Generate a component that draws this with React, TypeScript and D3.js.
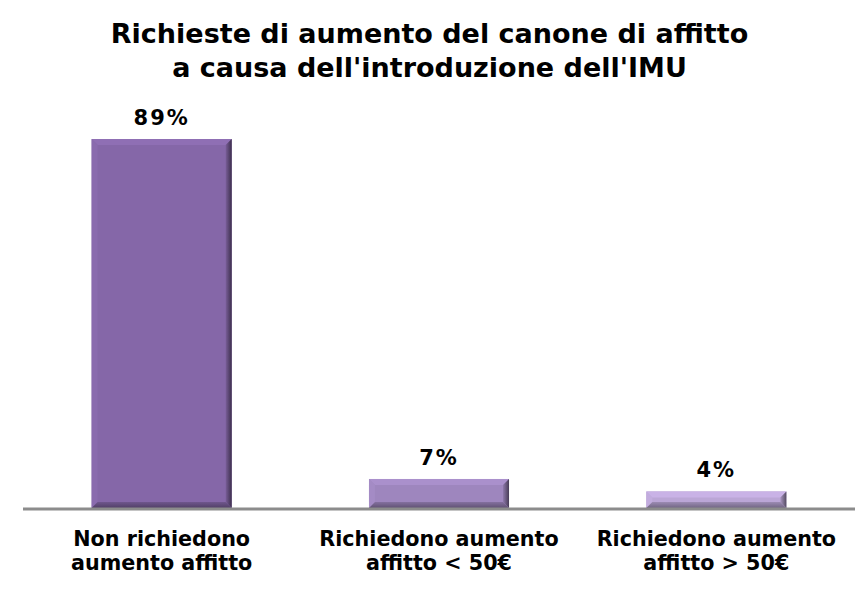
import React from "react";
import * as d3 from "d3";

const categories = ["Non richiedono|aumento affitto", "Richiedono aumento|affitto < 50€", "Richiedono aumento|affitto > 50€"];
const values = [89, 7, 4];
const valueLabels = ["89%", "7%", "4%"];
const colors = ["#8567A8", "#9E86BE", "#BBA6D6"];
const titleLines = ["Richieste di aumento del canone di affitto", "a causa dell'introduzione dell'IMU"];

const W = 859, H = 603;
const left = 23, right = 855, baseY = 508;

function shade(c: string, k: number) {
  const col = d3.color(c)!;
  return k > 0 ? col.brighter(k).formatHex() : col.darker(-k).formatHex();
}

export default function App() {
  const x = d3.scaleBand().domain(categories).range([left, right]).paddingInner(0.495).paddingOuter(0.2475);
  const y = d3.scaleLinear().domain([0, 89]).range([baseY, 139]);
  const b = 6;
  const font = "'DejaVu Sans', Verdana, sans-serif";
  return (
    <svg width={W} height={H} style={{ position: "absolute", left: 0, top: 0, background: "#fff" }}>
      <defs>
        {colors.map((c, i) => (
          <g key={i}>
            <linearGradient id={`rg${i}`} x1="0" x2="1" y1="0" y2="0">
              <stop offset="0" stopColor={shade(c, -0.3)} />
              <stop offset="1" stopColor={shade(c, -2.2)} />
            </linearGradient>
            <linearGradient id={`bg${i}`} x1="0" x2="0" y1="0" y2="1">
              <stop offset="0" stopColor={shade(c, -0.5)} />
              <stop offset="1" stopColor={shade(c, -1.4)} />
            </linearGradient>
          </g>
        ))}
      </defs>
      {titleLines.map((t, i) => (
        <text key={i} x={429.5} y={43 + i * 34} textAnchor="middle" fontFamily={font} fontWeight="bold" fontSize={27} fill="#000">
          {t}
        </text>
      ))}
      {categories.map((c, i) => {
        const x0 = x(c)!;
        const w = x.bandwidth();
        const y0 = y(values[i]);
        const x1 = x0 + w;
        const col = colors[i];
        const bb = Math.min(b, (baseY - y0) / 2);
        return (
          <g key={c}>
            <rect x={x0} y={y0} width={w} height={baseY - y0} fill={col} />
            <polygon points={`${x0},${y0} ${x1},${y0} ${x1 - bb},${y0 + bb} ${x0 + bb},${y0 + bb}`} fill={shade(col, 0.2)} />
            <polygon points={`${x0},${y0} ${x0 + bb},${y0 + bb} ${x0 + bb},${baseY - bb} ${x0},${baseY}`} fill={shade(col, 0.1)} />
            <polygon points={`${x1},${y0} ${x1},${baseY} ${x1 - bb},${baseY - bb} ${x1 - bb},${y0 + bb}`} fill={`url(#rg${i})`} />
            <polygon points={`${x0},${baseY} ${x1},${baseY} ${x1 - bb},${baseY - bb} ${x0 + bb},${baseY - bb}`} fill={`url(#bg${i})`} />
            <text x={x0 + w / 2} y={y0 - 14} textAnchor="middle" fontFamily={font} fontWeight="bold" fontSize={21} letterSpacing={2} fill="#000">
              {valueLabels[i]}
            </text>
            {c.split("|").map((l, j) => (
              <text key={j} x={x0 + w / 2} y={546 + j * 24} textAnchor="middle" fontFamily={font} fontWeight="bold" fontSize={20.7} fill="#000">
                {l}
              </text>
            ))}
          </g>
        );
      })}
      <line x1={left} x2={right} y1={baseY + 1} y2={baseY + 1} stroke="#8C8C8C" strokeWidth={3} />
    </svg>
  );
}
